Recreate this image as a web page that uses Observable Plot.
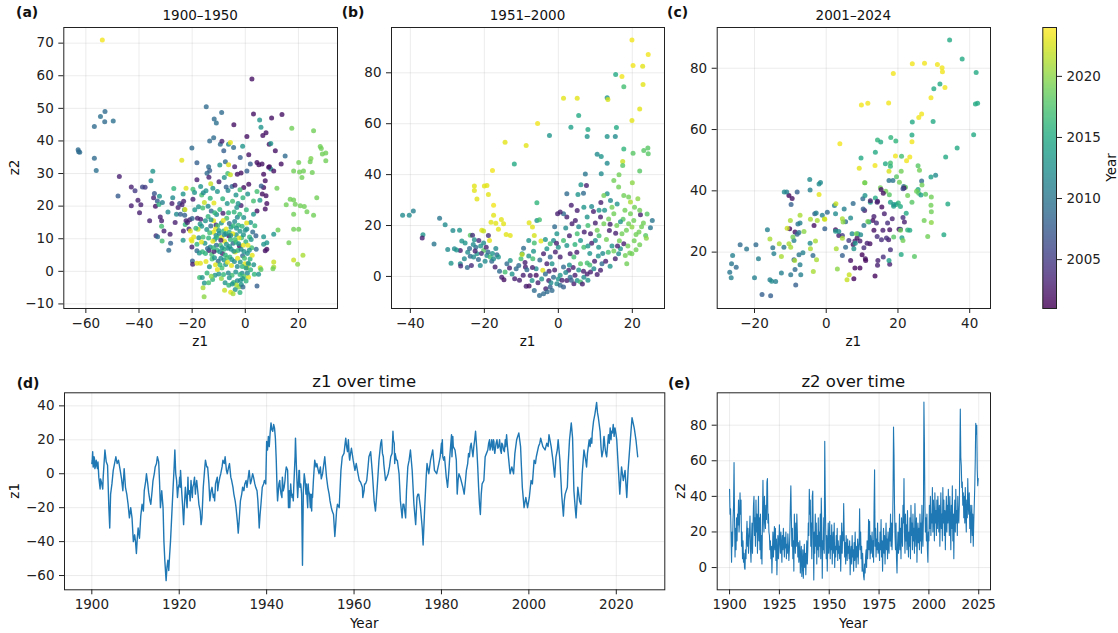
<!DOCTYPE html>
<html><head><meta charset="utf-8">
<script src="https://cdn.jsdelivr.net/npm/d3@7"></script>
<script src="https://cdn.jsdelivr.net/npm/@observablehq/plot@0.6"></script>
<style>
body{margin:0;background:#fff;}
#fig{position:relative;width:1118px;height:633px;overflow:hidden;background:#fff;font-family:"DejaVu Sans",sans-serif;}
.panel{position:absolute;}
#overlay{position:absolute;left:0;top:0;pointer-events:none;}
</style></head><body><div id="fig"></div>
<script>
// ---------------- DATA ----------------
// scatter points: [z1, z2, colour value (Year)]
const scatter1900 = [
[-53.8,71.0,2023.5],
[-62.9,37.3,2009],[-62.7,36.7,2009],[-62.3,36.5,2009],
[-56.8,44.4,2009],[-54.5,47.5,2009.5],[-52.8,49.0,2009],[-52.9,45.9,2009],[-49.7,46.1,2009.5],
[-56.8,34.7,2009],[-56.1,30.9,2009.5],
[-47.4,29.1,2003],[-47.9,23.1,2007.5],[-42.9,25.9,2003],[-41.5,24.7,2005],[-40.4,21.8,2003],[-39.8,18.0,2003],[-38.7,25.9,2006],[-37.7,25.8,2005],[-42.9,20.1,2003],[-39.3,20.4,2003],
[-34.8,30.7,2013],[-35.5,27.8,2012],
[-36.0,15.5,2003],[-34.5,22.6,2003],[-34.2,23.9,2007],[-33.8,20.0,2002],[-33.1,21.6,2008],[-32.3,23.0,2013],[-32.5,20.5,2016],[-31.2,21.1,2011],
[-33.6,10.9,2004],[-33.0,10.6,2009],[-32.0,16.7,2003],[-31.5,15.5,2003],[-31.5,13.8,2017],[-30.6,12.4,2003],[-31.3,9.3,2017],
[-29.1,18.2,2012],[-28.8,6.5,2009],[-28.1,8.6,2008],[-27.6,20.8,2003],[-27.3,22.6,2012],[-26.9,25.4,2016],[-28.3,11.4,2003],
[-26.4,15.0,2003],[-25.9,17.5,2012],[-25.3,19.6,2003],[-24.7,20.8,2007],[-24.4,17.5,2008],[-23.8,20.4,2003],[-23.4,23.7,2013],[-23.2,21.5,2003],[-22.9,18.9,2012],[-23.3,12.4,2003],[-23.4,9.5,2013],[-22.8,17.2,2008],[-22.3,15.5,2003],[-22.6,14.4,2016],
[-23.9,34.1,2023],
[-22.7,19.0,2023],[-21.8,15.0,2003],[-21.2,13.0,2003],[-20.9,15.8,2003],[-20.0,16.2,2008],[-19.7,25.2,2017],[-20.1,37.8,2009],[-19.7,22.1,2003],[-19.1,24.2,2013],[-22.3,25.5,2023],[-20.7,12.4,2023],[-20.4,9.8,2023.5],[-20.1,9.3,2023],[-19.4,10.5,2023],
[-20.1,7.5,2003],[-19.9,3.2,2008],[-19.8,2.2,2003],[-18.2,8.3,2016],[-18.2,6.3,2009],[-18.2,2.5,2023],[-17.5,10.3,2012],[-16.9,2.5,2023],[-17.2,-1.9,2017],[-16.2,-1.9,2013],[-15.9,-5.0,2021],[-15.5,-7.8,2020],[-15.4,-3.6,2013],
[-18.2,33.3,2008],[-18.2,28.1,2003],[-16.8,26.0,2013],[-16.4,23.4,2017],[-15.8,24.1,2012],[-15.4,21.1,2022],[-14.8,24.7,2013],[-14.4,30.1,2009],[-13.8,32.1,2009],[-13.4,30.9,2008],[-14.7,50.5,2009],[-13.7,28.9,2003],[-13.0,26.9,2022],[-11.9,15.5,2023],
[-13.4,40.0,2009],[-11.9,41.0,2009],[-11.7,46.7,2009],[-10.9,45.5,2009.5],[-9.4,39.0,2009],[-8.9,48.7,2009],[-8.1,37.0,2008],[-8.8,39.9,2003],[-7.5,33.6,2009],[-6.3,39.0,2012],[-4.4,38.0,2009],
[-5.6,39.5,2023],[-6.3,32.7,2023],[-6.6,30.0,2017],[-5.6,29.6,2022],
[-4.0,32.1,2003],[-3.0,29.8,2002],[-1.6,30.2,2002],[-1.0,38.4,2013],[-1.9,34.9,2008],[-4.3,45.0,2002],[0.6,41.4,2002],[1.3,35.8,2002],[2.5,59.0,2002],[3.1,48.3,2002],[5.4,46.4,2013],[5.9,44.2,2013],[6.6,41.7,2002],[7.8,42.5,2002],[9.0,39.0,2002],[9.6,39.2,2013],[9.9,47.0,2002],[13.8,48.1,2002],[11.3,37.0,2002],[13.5,32.9,2002],[15.0,35.4,2009],[9.1,32.1,2002],[9.6,31.4,2013],[10.7,30.8,2002],
[4.4,33.4,2002],[5.1,32.7,2002],[6.3,32.9,2002],[6.9,29.8,2002],[7.5,27.8,2002],[6.9,25.7,2002],[6.4,23.7,2002],[7.8,23.2,2002],[8.1,20.8,2002],[7.5,19.1,2002],[8.8,31.9,2002],[6.0,26.2,2008],[5.5,21.8,2013],[4.4,18.5,2002],[3.1,17.5,2013],[3.1,21.6,2017],[4.4,24.5,2017],[1.9,32.9,2008],[0.6,30.8,2008],[1.3,26.7,2002],[0.9,23.7,2013],[-0.6,25.7,2002],
[17.5,43.9,2019],[25.7,43.1,2019],[18.2,30.8,2019],[20.1,33.4,2019],[20.4,30.5,2019],[21.9,30.8,2019],[21.3,28.8,2019],[24.7,34.6,2019.5],[24.4,33.6,2019],[25.2,30.3,2019],[28.2,38.3,2019],[28.6,37.7,2019],[29.0,36.0,2019],[30.3,36.3,2019],[30.3,33.9,2019],[26.9,22.6,2019],[18.2,21.9,2019],[16.9,22.1,2019],[18.8,20.6,2019],[15.4,20.4,2019],[20.7,20.1,2019],[22.2,19.9,2019],[23.2,18.3,2019],[25.7,17.2,2019],[18.2,17.5,2019],[16.4,8.8,2019],[18.2,12.9,2019],[20.1,12.9,2019],[12.3,12.7,2019],[11.9,25.5,2019],[10.7,11.4,2013],[18.2,3.5,2022],[19.7,2.2,2020],[21.7,4.9,2021],[10.7,2.9,2022],[10.7,1.3,2021],[10.4,0.8,2019],
[4.0,10.9,2008],[6.9,10.6,2013],[4.1,6.8,2009],[7.5,6.3,2002],[8.1,6.8,2002],[8.1,8.8,2013],[6.9,8.3,2013],[5.6,1.1,2022],[5.9,0.6,2018],[4.4,-4.5,2008],[3.4,-0.9,2016],[5.0,-0.9,2013],[1.3,2.2,2018],[0.6,1.1,2022],
[-14.5,12.8,2013],[-13.8,10.2,2016],[-13.2,7.5,2012],[-12.6,5.2,2017],[-12.0,12.0,2023],[-11.5,9.8,2013],[-11.0,14.2,2003],[-10.6,6.5,2016],[-10.2,3.1,2009],[-9.8,11.6,2012],[-9.4,8.0,2017],[-9.0,14.8,2013],[-8.6,5.5,2003],[-8.2,12.4,2016],[-7.8,9.2,2023],[-7.4,2.1,2013],[-7.0,16.3,2017],[-6.6,7.1,2012],[-6.2,10.9,2002],[-5.8,4.4,2016],[-5.4,13.5,2013],[-5.0,-1.2,2017],[-4.6,8.6,2009],[-4.2,18.2,2016],[-3.8,5.9,2023],[-3.4,11.2,2013],[-3.0,1.5,2012],[-2.6,14.1,2016],[-2.2,7.8,2002],[-1.8,-2.7,2013],[-1.4,10.3,2017],[-1.0,4.8,2009],[-0.6,16.5,2013],[-0.2,2.3,2023],[0.2,9.1,2016],[0.6,13.0,2012],
[-15.2,8.6,2013],[-14.8,3.0,2023],[-14.0,16.8,2016],[-13.5,1.4,2013],[-12.8,18.5,2009],[-12.3,-2.5,2016],[-11.8,6.1,2003],[-11.2,2.0,2023],[-10.8,17.4,2012],[-10.0,-0.8,2013],[-9.6,19.0,2016],[-9.2,4.0,2012],[-8.8,1.0,2017],[-8.4,17.8,2003],[-8.0,6.8,2016],[-7.6,-3.5,2013],[-7.2,13.0,2023],[-6.8,20.8,2013],[-6.4,-0.5,2012],[-6.0,14.7,2009],[-5.6,9.8,2016],[-5.2,1.8,2023],[-4.8,21.5,2017],[-4.4,-3.4,2016],[-4.0,15.3,2012],[-3.6,-0.2,2013],[-3.2,19.6,2013],[-2.8,6.4,2016],[-2.4,-4.8,2020],[-2.0,12.3,2013],[-1.6,20.2,2003],[-1.2,-0.6,2012],[-0.8,8.0,2023],[-0.4,-1.6,2018],[0.0,12.6,2013],[0.4,18.9,2016],[0.8,5.5,2013],[1.2,-1.8,2023],[1.6,10.5,2016],[2.0,15.0,2013],[2.4,7.2,2017],[2.8,12.1,2009],[3.2,2.0,2013],
[-13.0,13.9,2009],[-12.2,9.2,2023],[-11.0,11.0,2012],[-10.4,14.0,2017],[-9.6,6.0,2013],[-8.9,10.4,2023],[-8.0,3.5,2013],[-7.3,11.5,2013],[-6.9,4.2,2017],[-6.0,12.0,2016],[-5.3,6.8,2013],[-4.7,11.5,2023],[-4.1,3.0,2012],[-3.5,8.9,2016],[-3.0,16.6,2012],[-2.4,10.2,2023],[-1.9,2.9,2013],[-1.2,13.8,2016],[-0.5,6.1,2013],[0.3,1.0,2013],[1.0,8.0,2023],[1.8,3.8,2016],
[-9.0,-2.2,2020],[-7.8,-5.8,2022],[-6.2,-4.3,2016],[-5.5,-6.4,2023],[-3.8,-5.6,2013],[-3.0,-2.9,2012],[-2.0,-1.0,2016],[-1.5,-4.0,2013],[-0.9,-4.8,2009],[0.8,-0.5,2012],[-3.3,-4.2,2021],[-4.9,-3.9,2013],
[-10.5,24.5,2013],[-8.5,22.3,2016],[-6.5,24.8,2012],[-5.0,26.0,2009],[-3.5,23.4,2013],[-2.0,25.0,2017],[-0.9,22.6,2016],[-11.8,21.0,2023],[-9.9,27.5,2003],[-7.9,28.8,2013],[-3.9,26.4,2003],[-2.7,20.8,2013],[-9.6,32.6,2013],[-7.2,25.9,2008],
[-12.5,3.8,2017],[-11.4,-1.2,2013],[-10.9,8.0,2009],[-13.7,6.4,2003],[-14.4,-0.5,2016],[-16.4,13.8,2013],[-15.9,10.5,2017],[-16.8,16.0,2003],[-17.8,12.9,2022],[-17.3,5.6,2013],[-16.1,6.0,2016],
[-17.0,14.5,2013],[-16.5,9.0,2023],[-15.0,5.5,2016],[-14.2,7.0,2009],[-13.4,11.8,2017],[-12.9,15.8,2013],[-12.0,7.2,2016],[-11.6,4.2,2013],[-11.2,13.0,2023],[-10.7,10.4,2016],[-10.0,12.5,2013],[-9.5,2.0,2016],[-9.2,9.5,2003],[-8.7,7.2,2013],[-8.3,15.6,2023],[-7.9,11.2,2012],[-7.5,5.0,2016],[-7.1,8.3,2013],[-6.7,2.8,2023],[-6.3,18.0,2016],[-5.9,7.6,2013],[-5.5,11.0,2012],[-5.1,3.6,2013],[-4.5,14.0,2016],[-4.3,6.2,2013],[-3.9,9.8,2017],[-3.3,13.2,2013],[-2.9,4.0,2023],[-2.5,8.5,2013],[-2.1,17.5,2016],[-1.6,6.8,2012],[-1.1,1.5,2016],[-0.7,11.2,2013],[-0.3,4.0,2017],[0.5,14.8,2023],[1.1,2.5,2013],[1.5,6.5,2013],[2.2,9.8,2013],[2.6,4.9,2023],[3.6,14.0,2016],
[-19.0,18.9,2013],[-18.6,13.2,2016],[-18.0,16.3,2003],[-17.6,19.8,2013],[-16.0,19.4,2017],[-15.0,15.5,2013],[-14.0,20.0,2012],[-13.2,22.4,2016],[-12.2,25.5,2013],[-11.5,18.0,2016],[-6.0,-2.0,2013],[-8.2,-1.0,2016],[-10.5,0.6,2023],[-12.8,-1.5,2020],[-13.8,-3.5,2017],[-2.0,-6.5,2016],[-4.6,-6.9,2021],[-1.0,-2.2,2013],[0.3,-3.0,2016],[2.0,0.5,2016]
];

const scatter1951 = [
[19.9,92.9,2023.5],[20.2,82.9,2023.5],[22.8,82.6,2023],[24.3,87.2,2023.5],[22.9,75.4,2023],[22.0,65.8,2023],[19.9,61.3,2023],[17.2,78.5,2023.5],[17.7,74.5,2017],[15.5,79.3,2015],[13.2,70.2,2013],[13.4,69.5,2022.5],[1.4,70.0,2023],[5.1,70.0,2023],[5.5,63.2,2015],[-5.6,60.1,2023.5],[3.4,58.6,2014],[8.0,57.7,2015],[7.8,55.0,2013],[-2.4,55.4,2013],[13.2,55.0,2013],[15.4,55.0,2012],[15.7,58.5,2015],[-8.7,51.4,2023],[-14.4,52.7,2023],[-11.9,44.2,2015],[-17.8,41.6,2023.5],
[17.7,50.1,2016],[20.2,48.4,2018],[23.1,49.5,2018],[24.2,50.5,2018],[24.3,48.2,2018],[22.0,41.4,2018],[17.4,45.2,2022],[17.4,43.6,2018],[10.5,48.0,2012],[11.6,47.1,2013],[13.2,44.5,2012],[11.6,40.3,2012],[7.3,40.2,2010],[6.1,36.0,2013],[7.6,35.7,2003],[2.3,32.5,2009],[5.3,32.2,2013],[6.8,32.7,2009],[16.4,39.9,2019],[20.0,36.8,2020],[15.0,37.7,2019],[16.3,35.1,2019],
[-42.1,24.0,2012],[-40.3,24.0,2012],[-39.2,25.7,2011],[-32.1,22.9,2010],[-30.6,20.3,2012],[-36.6,16.4,2013],[-36.8,15.1,2003],[-33.6,12.7,2010],[-29.9,10.6,2012],[-28.1,10.9,2012],[-26.7,18.1,2013],[-26.5,5.0,2012],[-26.4,4.1,2004],[-26.1,13.9,2013],[-25.2,13.1,2013],[-26.5,10.2,2003],[-25.4,6.9,2012],[-23.8,16.2,2018],[-23.2,16.2,2004],[-22.7,14.4,2013],[-23.8,7.9,2009],[-22.9,7.6,2012],[-22.3,11.5,2009],[-22.0,8.9,2013],[-21.6,6.7,2009],[-21.1,4.3,2012],[-20.7,18.1,2023],[-20.2,17.8,2022],[-21.5,14.1,2004],[-20.2,13.1,2012],[-20.2,10.2,2018],[-19.5,11.5,2003],[-19.3,8.2,2012],[-18.9,16.1,2004],[-18.6,14.1,2023],[-18.4,7.6,2017],[-18.0,6.0,2009],[-17.5,6.9,2012],[-17.1,3.7,2003],[-16.6,8.5,2009],[-16.2,7.6,2013],[-15.9,2.0,2009],[-15.3,-0.3,2003],[-14.7,-1.3,2002],[-14.4,1.7,2017],[-13.9,5.0,2009],[-13.0,6.3,2013],[-13.2,3.3,2003],[-11.8,-0.9,2003],[-11.4,3.0,2009],[-10.7,4.3,2009],[-10.1,6.9,2017],[-9.8,8.9,2013],[-9.4,11.1,2009],[-8.9,3.7,2003],[-8.5,2.6,2009],[-8.0,14.1,2013],[-7.6,0.4,2003],[-7.1,-1.6,2013],[-8.7,-3.9,2003],[-7.9,-3.8,2002],[-6.9,6.9,2017],[-6.7,9.9,2013],[-6.5,13.1,2017],[-5.8,22.0,2013],[-5.1,22.3,2017],[-5.8,28.9,2016],
[-24.5,9.5,2012],[-24.0,11.0,2009],[-21.0,12.0,2013],[-20.8,9.0,2004],[-19.8,6.0,2012],[-22.5,10.0,2003],[-23.0,12.5,2012],[-19.0,9.6,2009],[-17.8,9.0,2013],[-16.9,11.0,2012],[-29.0,5.2,2013],[-27.5,10.4,2013],[-28.5,18.0,2012],[-24.6,3.5,2009],[-23.5,4.3,2004],
[-22.7,35.5,2023],[-22.7,33.8,2023],[-22.0,30.4,2023],[-20.0,35.5,2023],[-19.3,35.7,2023],[-18.9,32.2,2023],[-17.5,28.0,2023.5],[-17.5,24.0,2023],[-18.2,21.3,2023],[-16.9,20.9,2023],[-15.4,22.4,2023],[-14.8,20.7,2023],[-16.2,18.5,2023],[-14.1,16.5,2023],[-13.0,16.1,2023],[-7.9,21.1,2023],[-7.0,19.4,2023],[-6.5,16.1,2022.5],[-4.7,13.9,2023],[-4.2,2.4,2023],[-9.8,8.6,2022],
[-5.1,-7.5,2009],[-4.0,-6.8,2009],[-3.4,-4.8,2003],[-2.2,-4.2,2008],[-1.7,-5.5,2009],[-2.6,-1.6,2003],[-1.3,-0.3,2009],[-0.4,-2.9,2012],[0.5,-3.5,2009],[1.4,-4.2,2008],[2.3,-1.6,2003],[3.2,-0.3,2009],[4.2,-2.9,2003],[5.1,-1.6,2013],[6.0,-2.2,2017],[6.9,-0.3,2012],[7.8,1.0,2003],[8.7,1.7,2003],[9.6,3.0,2012],[10.5,0.8,2003],[11.4,2.4,2003],[11.8,5.0,2009],
[25.4,22.0,2010],[24.9,19.1,2010],[23.6,16.1,2018],[22.2,24.2,2003],[22.0,12.4,2019],[19.9,8.9,2019],[19.3,9.2,2019],[18.1,8.2,2019],[17.7,12.8,2003],[16.8,10.9,2013],[15.4,6.9,2003],[16.3,8.9,2012],[17.2,16.8,2019],[18.4,18.1,2019],[19.0,20.7,2019],[19.9,19.4,2020],[20.4,22.0,2019],[19.5,24.6,2019],[20.6,27.2,2019],[19.5,29.2,2021],[19.0,31.2,2019],[17.7,31.8,2019],[15.9,28.5,2013],[14.1,29.8,2012],[13.2,32.5,2013],[12.3,31.8,2019],[14.5,27.2,2019],[15.0,24.6,2019],[13.6,22.6,2019],[12.3,20.7,2019],[11.4,23.3,2003],[10.5,18.1,2019],[10.0,14.1,2012],[10.9,11.5,2013],[8.7,16.8,2003],[7.8,23.3,2013],[6.9,27.2,2013],[5.1,25.9,2003],[4.6,22.0,2003],[3.7,20.7,2003],[2.3,23.3,2003],[1.4,24.6,2009],[0.5,25.3,2003],[-0.2,24.6,2003],[-0.4,16.8,2013],[-1.3,14.1,2012],[-2.2,12.8,2017],[-3.1,10.9,2013],[-4.0,8.9,2003],[-3.1,5.0,2003],[-2.2,7.6,2009],[1.4,14.1,2017],[2.3,12.2,2013],[3.2,8.9,2003],[4.2,7.6,2017],[5.1,16.8,2017],[6.0,14.1,2013],[6.9,11.5,2017],[7.8,5.3,2017],[6.0,5.0,2018],[0.5,7.6,2003],[-0.8,9.6,2003],[-1.7,5.0,2013],[1.4,3.7,2009],[2.8,2.4,2003],
[2.0,19.0,2012],[3.0,16.0,2003],[4.5,12.5,2016],[5.5,19.5,2012],[8.0,20.0,2017],[9.0,13.0,2003],[9.5,25.5,2003],[11.0,16.0,2017],[12.0,9.0,2012],[13.0,14.5,2019],[13.8,18.0,2003],[14.5,12.0,2013],[15.8,20.0,2019],[16.5,14.0,2019],[17.5,22.5,2018],[18.0,26.0,2019],[21.0,16.5,2019],[21.5,30.5,2020],[22.5,19.5,2019],[23.8,15.0,2020],[21.0,10.5,2019],[12.5,26.0,2013],[10.0,21.0,2003],[8.5,9.0,2013],[7.0,17.5,2003],[4.0,3.5,2003],[0.0,11.5,2013],[-1.0,19.5,2009],[3.5,28.0,2003],[9.0,27.5,2012],[11.5,29.0,2003],[6.5,-3.0,2003],[8.0,-1.5,2013],[-9.5,0.5,2003],[-6.0,3.0,2012],[-5.0,6.5,2009],[-2.5,2.0,2003],[0.5,0.5,2013],[14.0,4.0,2013],[18.5,5.0,2019],[24.0,24.5,2018],[15.5,17.0,2003],
[-9.0,5.5,2003],[-8.0,8.0,2013],[-7.0,3.5,2003],[-6.0,0.5,2002],[-5.5,-2.5,2003],[-4.5,-1.0,2013],[-3.5,1.0,2009],[-2.0,-2.5,2012],[-1.0,2.5,2003],[0.0,-1.0,2013],[1.0,-1.5,2003],[2.0,1.5,2012],[3.5,-1.5,2008],[4.5,0.5,2003],[5.5,2.5,2013],[6.8,2.0,2003],[8.5,4.5,2017],[9.8,6.0,2003],[10.8,8.0,2013],[12.8,6.0,2003],[13.5,9.5,2017],[15.0,10.0,2019],[16.0,12.0,2003],[18.8,12.0,2019],[20.5,14.0,2019],[21.8,17.5,2019],[23.0,21.0,2019],[22.0,26.0,2019],[16.8,21.5,2013],[14.0,20.5,2003],[11.0,26.0,2013],[8.0,12.0,2013],[5.0,9.5,2003],[3.0,4.5,2013],[-0.5,13.0,2003],[-3.5,14.5,2013],[-10.5,-1.5,2003],[-12.5,1.0,2013],[-6.5,-5.5,2009],[-3.0,-6.0,2009]
];

const scatter2001 = [
[34.4,89.2,2015],[37.9,83.0,2015],[41.8,78.6,2015],[41.6,68.3,2015],[42.2,68.6,2015],[41.1,58.3,2015],[31.7,74.9,2015],[30.0,73.3,2015],[29.8,62.6,2015],[24.0,62.5,2015],[23.9,58.2,2015],[36.5,54.0,2015],[33.3,51.0,2015],[33.9,35.7,2015],[32.8,25.7,2015],[30.5,45.1,2012],[29.2,44.5,2014],
[24.0,81.5,2023.5],[27.4,81.6,2023.5],[31.0,81.2,2023.5],[32.3,80.2,2023.5],[32.4,78.9,2023.5],[18.7,78.3,2023.5],[33.1,73.7,2023.5],[29.2,70.4,2023.5],[26.6,65.1,2023.5],[25.8,63.9,2023.5],[9.8,68.0,2023.5],[11.6,68.6,2023.5],[17.4,68.7,2023.5],[3.8,55.4,2023.5],[23.9,56.0,2023.5],[19.3,51.4,2023.5],[22.4,49.8,2023.5],[23.3,51.0,2023.5],[9.2,47.4,2023],[13.6,48.3,2023.5],[17.5,46.4,2022.5],[-2.0,38.8,2023],[-0.4,30.7,2023],
[18.0,57.4,2016],[19.4,56.3,2016],[14.3,56.6,2016],[15.2,55.9,2015],[13.7,52.6,2015],[9.7,50.7,2015],[17.9,49.1,2017],[16.5,48.8,2015],[17.9,48.0,2016],[21.0,51.3,2017],[25.6,48.2,2018],[26.0,46.7,2019],[20.9,46.4,2019],[19.6,44.6,2018],[18.6,43.4,2010],[10.7,42.6,2020],[21.6,41.4,2009],[20.4,42.8,2019],[26.6,43.2,2009],[26.7,41.9,2019],[25.6,40.4,2015],[25.2,39.9,2019],[25.8,39.2,2018],[26.4,38.6,2014],[27.7,38.9,2018],[29.3,38.0,2019],[29.2,35.3,2019],[29.3,33.2,2019],[27.3,30.3,2019],[29.3,29.7,2020],[28.3,25.1,2019],[24.6,18.6,2018],[22.7,27.2,2016],[22.3,32.7,2015],[23.9,36.3,2018],[22.7,38.5,2019],[22.1,41.2,2018],[20.7,34.9,2015],[20.1,36.0,2016],[19.5,35.5,2015],[18.8,35.0,2014],[17.9,36.3,2014],[17.6,38.7,2018],[16.6,39.9,2019],[15.1,41.0,2019],[13.7,37.7,2015],[12.3,36.3,2014],
[-10.4,38.5,2001.5],[-9.5,37.5,2002],[-10.2,27.6,2001.5],[-8.7,26.6,2002],[-3.4,28.7,2002],[2.6,27.3,2002],[3.5,25.4,2003],[4.5,25.4,2005],[6.8,17.3,2002],[8.0,14.8,2001.5],[7.7,11.3,2001.5],[9.4,14.8,2001.5],[10.0,19.1,2001.5],[10.9,17.8,2002],[11.0,17.3,2001.5],[13.6,12.2,2001.5],[14.3,15.7,2003],[14.4,17.3,2003],[15.9,18.4,2004],[17.7,16.0,2003],[17.9,20.8,2004],[17.4,24.0,2003],[17.7,27.3,2002],[18.4,30.9,2003],[17.1,29.5,2004],[16.2,32.5,2003],[15.5,34.7,2002],[14.2,36.3,2003],[13.3,31.6,2003],[13.0,30.3,2002],[14.0,29.5,2004],[13.3,27.1,2002],[14.2,25.1,2004],[15.4,24.0,2004],[12.2,22.7,2002],[11.4,22.9,2003],[10.5,21.4,2004],[9.4,23.6,2003],[8.6,24.6,2002],[8.0,23.6,2003],[7.5,22.5,2002],[6.3,23.8,2005],[20.3,27.5,2002],[20.7,27.5,2005],[21.8,29.8,2003],[21.4,31.3,2004],[21.7,40.9,2002],[21.4,40.7,2006],[15.9,39.2,2002],[15.3,40.4,2002],[16.8,24.6,2004],[15.8,27.1,2003],[10.7,33.6,2003],[12.3,36.8,2003],[14.3,36.6,2003],
[-26.9,13.4,2010],[-26.5,11.6,2011],[-26.4,16.2,2010],[-26.1,18.9,2011],[-25.1,15.1,2009],[-24.0,22.4,2009],[-22.2,21.0,2010],[-20.0,11.6,2011],[-19.6,22.4,2009],[-18.9,17.8,2011],[-17.9,6.2,2008],[-16.4,27.3,2011],[-15.7,11.0,2011],[-15.5,5.8,2008],[-15.2,10.5,2012],[-14.9,21.4,2010],[-14.6,19.5,2011],[-14.1,10.4,2011],[-12.5,13.2,2011],[-11.7,39.6,2012],[-11.0,39.6,2011],[-11.8,21.6,2010],[-9.9,12.6,2010],[-9.8,35.5,2008],[-9.0,17.5,2008],[-8.7,14.3,2009],[-8.5,9.3,2008],[-8.1,39.6,2008],[-9.0,23.8,2011],[-8.1,25.8,2008],[-7.9,29.2,2010],[-7.3,29.5,2011],[-7.6,19.1,2010],[-7.3,15.9,2011],[-7.1,12.6,2011],[-7.6,26.4,2010],[-6.5,19.8,2011],[-4.6,43.7,2012],[-4.5,40.3,2011],[-2.0,42.2,2012],[-1.6,42.7,2012],[-4.5,22.9,2012],[-3.7,18.9,2009],[-3.2,32.5,2008],[-2.8,32.8,2011],[-1.1,32.0,2011],[0.3,33.0,2009],[-0.4,27.6,2008],[2.3,35.2,2011],[2.6,32.5,2012],[5.0,34.1,2011],[5.4,29.9,2009],[6.8,31.1,2012],[7.5,35.9,2009],[10.2,37.4,2009],[10.3,34.1,2008],[8.8,26.0,2013],[9.6,25.7,2012],[10.5,28.7,2010],[11.9,29.8,2013],[8.1,22.9,2013],[7.7,21.1,2013],[7.2,26.0,2012],[5.4,21.6,2009],[4.5,18.9,2008],[3.5,26.7,2012],[2.6,26.8,2013],[10.8,38.5,2013],[17.5,43.4,2010],[18.8,35.5,2013],[17.5,17.3,2014],[20.9,19.2,2015],[21.1,24.7,2014],
[-15.7,24.3,2021],[-13.1,22.7,2021],[-12.5,18.6,2021],[-10.9,27.8,2022],[-10.4,22.7,2021],[-10.0,30.3,2021],[-9.9,21.6,2021],[-9.3,24.9,2019],[-8.8,17.3,2021],[-7.3,32.0,2021],[-6.2,26.7,2020],[-4.4,21.1,2021],[-4.4,30.7,2021],[-3.6,13.7,2021],[-3.0,23.6,2021],[-2.7,17.5,2021],[-2.5,30.3,2021],[-0.5,30.8,2022],[2.7,35.8,2022],[2.8,21.1,2021],[3.1,14.5,2020],[4.5,24.5,2021],[4.5,30.9,2021],[4.7,29.8,2020],[5.8,11.0,2022],[6.4,12.6,2022],[8.4,26.0,2019],[10.8,42.6,2019],[11.6,30.0,2019],[18.8,24.9,2018],[21.4,23.8,2019],[23.3,27.1,2015],[20.7,27.1,2019]
];

// z1 over time: [year, z1] (main trace and extra short-term wiggles)
const z1Series = [
[1900.0,6],[1900.2,13],[1900.4,5],[1900.6,9],[1900.8,4],[1901.0,8],[1901.3,3],[1901.6,-2],[1901.9,-9],[1902.2,-5],[1902.5,-9],[1902.8,6],[1903.0,14],[1903.3,7],[1903.6,5],[1903.9,-20],[1904.1,-32],[1904.3,-12],[1904.6,-6],[1904.9,2],[1905.2,6],[1905.5,10],[1905.8,6],[1906.1,8],[1906.5,2],[1906.8,-3],[1907.1,-10],[1907.4,3],[1907.7,-8],[1908.0,-12],[1908.3,-18],[1908.6,-26],[1908.9,-20],[1909.2,-26],[1909.5,-40],[1909.8,-36],[1910.0,-40],[1910.2,-47],[1910.4,-38],[1910.6,-32],[1910.9,-38],[1911.2,-25],[1911.5,-18],[1911.8,-22],[1912.0,-10],[1912.3,-5],[1912.5,0],[1912.8,-6],[1913.0,-11],[1913.3,-16],[1913.5,-18],[1913.8,-10],[1914.0,-4],[1914.3,0],[1914.5,4],[1914.8,6],[1915.0,10],[1915.3,7],[1915.5,-5],[1915.7,-20],[1916.0,-10],[1916.3,-20],[1916.5,-40],[1916.7,-51],[1917.0,-63],[1917.2,-55],[1917.4,-51],[1917.6,-57],[1917.8,-48],[1918.0,-40],[1918.3,-24],[1918.6,-8],[1918.8,2],[1919.0,14],[1919.2,0],[1919.4,-4],[1919.6,-14],[1919.8,-8],[1920.0,-6],[1920.3,2],[1920.6,-12],[1920.8,-20],[1921.0,-30],[1921.2,-18],[1921.4,-8],[1921.6,-14],[1921.8,-20],[1922.0,-2],[1922.3,-10],[1922.5,-16],[1922.8,-8],[1923.0,-14],[1923.3,-6],[1923.5,-2],[1923.8,-8],[1924.0,-4],[1924.3,-12],[1924.5,-18],[1924.8,-22],[1925.0,-30],[1925.2,-26],[1925.5,-8],[1925.8,2],[1926.0,8],[1926.3,4],[1926.5,4],[1926.8,-6],[1927.0,-16],[1927.3,-10],[1927.5,-8],[1927.8,-14],[1928.0,-12],[1928.3,-6],[1928.5,-4],[1928.8,-10],[1929.0,-6],[1929.3,-2],[1929.5,0],[1929.8,4],[1930.0,8],[1930.3,6],[1930.5,10],[1930.8,2],[1931.0,0],[1931.3,4],[1931.5,6],[1931.8,-2],[1932.0,-4],[1932.3,-8],[1932.5,-12],[1932.8,-16],[1933.0,-20],[1933.3,-28],[1933.5,-35],[1933.7,-28],[1934.0,-16],[1934.3,-12],[1934.5,-8],[1934.8,-10],[1935.0,-6],[1935.3,-4],[1935.5,-8],[1935.8,-2],[1936.0,2],[1936.3,-6],[1936.5,-4],[1936.8,0],[1937.0,-2],[1937.3,-6],[1937.5,-8],[1937.8,-10],[1938.0,-16],[1938.2,-26],[1938.3,-32],[1938.5,-24],[1938.7,-18],[1939.0,-8],[1939.3,-6],[1939.5,-4],[1939.8,-6],[1940.0,19],[1940.2,14],[1940.4,22],[1940.6,16],[1940.8,24],[1941.0,30],[1941.2,26],[1941.4,25],[1941.6,29],[1941.8,27],[1942.0,21],[1942.2,8],[1942.4,-10],[1942.5,-16],[1942.8,-6],[1943.0,-4],[1943.3,-12],[1943.6,-2],[1943.8,-10],[1944.0,-8],[1944.3,0],[1944.5,4],[1944.8,2],[1945.0,-20],[1945.2,-10],[1945.5,-6],[1945.8,-14],[1946.0,-12],[1946.3,-2],[1946.5,10],[1946.6,21],[1946.8,5],[1947.0,-8],[1947.3,-4],[1947.5,2],[1947.8,-6],[1948.0,-12],[1948.2,-54],[1948.4,-10],[1948.6,0],[1948.8,-4],[1949.0,-12],[1949.3,-16],[1949.5,-6],[1949.8,-12],[1950.0,-20],[1950.2,-16],[1950.5,-14],[1950.7,-4],[1951.0,8],[1951.3,4],[1951.5,6],[1951.8,2],[1952.0,0],[1952.3,4],[1952.5,-3],[1952.8,0],[1953.0,4],[1953.3,10],[1953.7,-2],[1954.0,-8],[1954.3,-12],[1954.5,-16],[1954.8,-20],[1955.0,-22],[1955.3,-24],[1955.6,-37],[1955.8,-30],[1956.0,-22],[1956.2,-18],[1956.6,-20],[1957.0,2],[1957.3,10],[1957.7,12],[1958.1,21],[1958.5,13],[1958.9,10],[1959.2,12],[1959.4,15],[1959.8,8],[1960.2,2],[1960.5,6],[1960.9,0],[1961.2,-4],[1961.5,-5],[1961.9,-8],[1962.3,-10],[1962.6,-6],[1962.9,-4],[1963.2,4],[1963.4,10],[1963.8,13],[1964.2,0],[1964.6,-16],[1964.9,-22],[1965.3,-8],[1965.7,8],[1966.1,18],[1966.5,12],[1966.8,6],[1967.2,-4],[1967.5,-2],[1967.8,0],[1968.1,4],[1968.4,10],[1968.7,12],[1968.9,25],[1969.2,18],[1969.4,12],[1969.7,8],[1969.9,8],[1970.3,0],[1970.6,-16],[1971.0,-26],[1971.2,-18],[1971.4,-18],[1971.8,-26],[1972.0,-10],[1972.3,4],[1972.6,8],[1972.9,14],[1973.3,2],[1973.7,-18],[1974.1,-30],[1974.4,-14],[1974.6,-12],[1974.8,-12],[1975.2,-20],[1975.6,-32],[1975.8,-42],[1976.0,-30],[1976.2,-18],[1976.5,-2],[1976.7,6],[1977.1,0],[1977.5,8],[1978.0,14],[1978.4,2],[1978.9,0],[1979.4,6],[1979.7,10],[1980.0,18],[1980.3,10],[1980.5,8],[1980.9,4],[1981.1,-2],[1981.4,-8],[1981.7,2],[1981.9,10],[1982.3,23],[1982.5,16],[1982.7,16],[1983.1,14],[1983.4,8],[1983.6,-12],[1983.8,-4],[1984.0,0],[1984.3,-2],[1984.5,-4],[1984.9,-8],[1985.2,-12],[1985.5,-4],[1985.7,2],[1986.0,6],[1986.2,12],[1986.6,16],[1987.0,14],[1987.4,16],[1987.6,20],[1987.8,25],[1988.1,14],[1988.3,4],[1988.5,-8],[1988.7,-18],[1988.9,-24],[1989.1,-12],[1989.3,-6],[1989.7,-4],[1990.0,10],[1990.3,12],[1990.6,14],[1991.0,20],[1991.3,16],[1991.6,17],[1991.9,20],[1992.1,14],[1992.3,14],[1992.5,18],[1992.7,20],[1993.1,16],[1993.5,14],[1993.8,18],[1994.2,14],[1994.6,20],[1994.9,23],[1995.1,16],[1995.4,8],[1995.7,0],[1996.1,4],[1996.5,0],[1996.8,12],[1997.2,20],[1997.7,24],[1998.1,16],[1998.3,4],[1998.5,-8],[1998.9,-20],[1999.3,-14],[1999.7,-20],[2000.1,-14],[2000.5,-4],[2000.8,-6],[2001.2,8],[2001.5,6],[2001.7,10],[2002.2,16],[2002.5,18],[2002.7,21],[2003.2,16],[2003.7,14],[2004.1,18],[2004.4,16],[2004.6,23],[2005.1,16],[2005.5,8],[2005.9,-2],[2006.2,10],[2006.5,14],[2006.7,20],[2007.1,8],[2007.5,-12],[2007.9,-25],[2008.1,-16],[2008.3,-12],[2008.8,-8],[2009.0,6],[2009.3,20],[2009.7,30],[2010.0,21],[2010.3,-10],[2010.6,-20],[2010.8,-26],[2011.2,-8],[2011.6,-16],[2011.9,-18],[2012.2,0],[2012.6,14],[2013.0,8],[2013.4,12],[2013.8,20],[2014.2,21],[2014.5,24],[2014.8,31],[2015.1,35],[2015.5,42],[2015.7,36],[2015.9,33],[2016.3,25],[2016.5,16],[2016.7,10],[2017.1,20],[2017.4,16],[2017.8,10],[2018.2,23],[2018.6,27],[2018.9,25],[2019.3,29],[2019.7,27],[2020.1,20],[2020.5,2],[2020.8,-12],[2021.0,-4],[2021.2,4],[2021.6,-4],[2022.0,2],[2022.4,-14],[2022.7,2],[2023.1,16],[2023.6,33],[2024.1,27],[2024.5,20],[2024.9,10]
];
const z1Detail = [
[1900.1,8],[1900.3,4],[1900.5,10],[1900.7,3],[1901.1,5],[1901.4,7],[1902.0,-3],[1902.6,-2],
[1920.1,-2],[1920.2,-8],[1922.1,-12],[1922.7,-4],[1923.1,-8],[1923.7,-12],[1928.1,-16],[1928.7,-2],
[1943.1,-8],[1943.5,-14],[1944.2,-4],[1945.1,-14],[1945.3,-20],[1945.6,-10],[1946.1,-16],[1946.2,-8],[1947.1,-14],[1947.4,2],[1947.6,-8],[1949.1,-6],[1949.4,-20],[1949.6,-10],[1950.1,-12],[1950.3,-22],[1950.4,-12],
[1958.3,16],[1958.7,20],[1959.0,8],[1962.0,-14],[1962.4,-6],[1966.3,20],[1966.7,10],[1969.0,20],[1969.3,6],
[1980.1,12],[1980.2,20],[1980.7,10],[1982.4,10],[1982.6,22],[1986.4,10],[1986.8,18],[1987.2,10],
[1990.8,18],[1991.1,14],[1991.5,20],[1991.7,14],[1992.0,19],[1992.2,12],[1992.4,16],[1992.9,15],[1993.3,20],[1993.7,12],[1994.0,17],[1994.4,13],[1994.7,16],
[2013.2,4],[2013.6,16],[2014.0,16],[2014.4,18],[2017.0,14],[2017.2,22],[2017.6,12],[2018.4,18],[2018.8,20],[2019.1,24],[2019.5,22],[2019.9,24]
];

// z2 over time: quarterly values starting 1900.0
const z2Start = 1900, z2Step = 0.25;
const z2Quarterly = [
44,30,33,18,3,20,12,27,35,59,28,6,22,10,28,15,30,24,38,20,
25,42,30,38,12,20,5,15,3,8,0,-1,10,5,18,26,12,22,8,16,
20,29,10,3,15,25,8,22,35,40,18,28,12,38,20,30,8,25,40,15,
28,10,30,5,18,2,25,49,30,20,40,28,22,35,27,48,50,25,30,20,
18,10,15,5,12,-3,8,20,6,14,23,10,22,4,16,-4,9,18,5,12,
24,15,8,20,12,3,18,10,22,14,6,17,11,20,5,13,8,19,12,4,
10,20,35,46,28,12,22,5,15,-2,30,18,8,25,12,30,20,6,14,3,
8,15,-3,6,12,-5,2,10,-6,4,13,0,8,-4,6,15,2,10,25,18,
44,30,38,12,25,5,40,43,15,-7,20,8,30,12,25,2,18,10,28,6,
20,12,30,5,39,25,-6,15,10,28,8,71,40,20,5,18,-2,12,25,8,
15,26,5,18,10,24,2,14,20,8,25,0,12,6,18,10,22,4,15,8,
12,5,18,-2,10,25,8,20,15,36,20,6,14,2,18,10,4,16,8,12,
5,15,-4,8,12,2,18,6,10,-2,14,4,20,8,0,12,6,16,2,10,
15,33,10,20,5,12,-2,8,0,-5,-7,2,-3,6,10,0,15,5,12,27,
10,26,5,18,8,12,20,6,15,3,35,55,12,22,6,16,10,25,8,14,
12,4,20,10,27,6,15,-2,12,22,8,18,2,14,25,10,16,5,20,12,
8,22,15,30,12,25,10,20,40,79,63,35,18,10,25,5,-3,12,20,8,
15,30,10,22,5,28,18,12,35,25,50,20,8,30,15,24,10,32,18,6,
20,12,28,5,35,18,25,10,30,15,22,8,36,20,12,28,3,18,25,14,
22,10,30,15,25,8,35,20,12,28,93,70,35,20,28,15,30,10,3,20,
15,35,22,40,18,30,25,45,20,38,28,15,42,25,32,18,38,22,40,30,
20,35,12,28,42,22,30,15,45,25,38,18,32,10,28,40,20,35,25,44,
30,18,40,25,10,35,22,46,15,30,5,28,38,20,44,25,32,18,40,28,
25,35,60,89,62,57,45,48,35,42,28,40,25,45,30,20,38,28,50,35,
30,42,22,35,14,28,35,18,30,12,25,35,45,60,81,75,80,55,46,50
];

// axis ticks
const ticksA_x = [-60,-40,-20,0,20], ticksA_y = [-10,0,10,20,30,40,50,60,70];
const ticksB_x = [-40,-20,0,20], ticksB_y = [0,20,40,60,80];
const ticksC_x = [-20,0,20,40], ticksC_y = [20,40,60,80];
const ticksBar = [2005,2010,2015,2020];
const ticksD_x = [1900,1920,1940,1960,1980,2000,2020], ticksD_y = [-60,-40,-20,0,20,40];
const ticksE_x = [1900,1925,1950,1975,2000,2025], ticksE_y = [0,20,40,60,80];
const yearDomain = [2001, 2024];

// ---------------- DRAWING ----------------
const fig = document.getElementById("fig");
const INK = "#222";
const FONT = "DejaVu Sans";
const fmt = d3.format("d");
const baseStyle = {fontFamily: FONT, fontSize: "13.5px", color: INK, background: "transparent", overflow: "visible"};
const gridOpts = {stroke: "#b0b0b0", strokeOpacity: 0.3, strokeWidth: 0.8};
const z1All = [...z1Series, ...z1Detail].sort((a, b) => a[0] - b[0]);

function place(el, left, top) {
  const w = document.createElement("div");
  w.className = "panel";
  w.style.left = left + "px";
  w.style.top = top + "px";
  w.appendChild(el);
  fig.appendChild(w);
}

function gridMarks(xt, yt) {
  return [
    Plot.gridX({ticks: xt, ...gridOpts}),
    Plot.gridY({ticks: yt, ...gridOpts})
  ];
}
function axisMarks(xt, yt) {
  return [
    Plot.frame({stroke: INK, strokeWidth: 1}),
    Plot.axisX({ticks: xt, tickSize: 5, tickPadding: 5, label: null, tickFormat: fmt}),
    Plot.axisY({ticks: yt, tickSize: 5, tickPadding: 5, label: null, tickFormat: fmt})
  ];
}

function scatterPanel(data, o) {
  return Plot.plot({
    width: o.width, height: o.height,
    marginLeft: o.ml, marginRight: o.mr, marginTop: o.mt, marginBottom: o.mb,
    style: baseStyle,
    x: {domain: o.xd, label: null},
    y: {domain: o.yd, label: null},
    color: {type: "linear", scheme: "viridis", domain: yearDomain},
    marks: [
      ...gridMarks(o.xt, o.yt),
      Plot.dot(data, {x: d => d[0], y: d => d[1], fill: d => d[2], r: 2.5, fillOpacity: 0.8}),
      ...axisMarks(o.xt, o.yt)
    ]
  });
}

place(scatterPanel(scatter1900, {width: 345, height: 360, ml: 63.3, mr: 8, mt: 27, mb: 52,
  xd: [-68.3, 34.7], yd: [-11.4, 74.8], xt: ticksA_x, yt: ticksA_y}), 0, 0);
place(scatterPanel(scatter1951, {width: 325, height: 360, ml: 46, mr: 6, mt: 27, mb: 52,
  xd: [-45.1, 28.7], yd: [-12.6, 97.8], xt: ticksB_x, yt: ticksB_y}), 345, 0);
place(scatterPanel(scatter2001, {width: 330, height: 360, ml: 46.7, mr: 10, mt: 27, mb: 52,
  xd: [-30.4, 45.8], yd: [1.6, 93.3], xt: ticksC_x, yt: ticksC_y}), 670, 0);

// colour bar
let barMarks;
try {
  barMarks = [Plot.raster({fill: (x, y) => y, x1: 0, x2: 1, y1: yearDomain[0], y2: yearDomain[1], width: 1, height: 280, fillOpacity: 0.8})];
} catch (e) { barMarks = []; }
const bar = Plot.plot({
  width: 118, height: 360, marginLeft: 42.3, marginRight: 62, marginTop: 27, marginBottom: 52,
  style: baseStyle,
  x: {domain: [0, 1], axis: null},
  y: {domain: yearDomain, label: null},
  color: {type: "linear", scheme: "viridis", domain: yearDomain},
  marks: [
    ...barMarks,
    Plot.frame({stroke: INK, strokeWidth: 1}),
    Plot.axisY({anchor: "right", ticks: ticksBar, tickSize: 5, tickPadding: 5, label: null, tickFormat: fmt})
  ]
});
place(bar, 1000, 0);

// z1 over time
place(Plot.plot({
  width: 670, height: 273, marginLeft: 64, marginRight: 5.7, marginTop: 32.3, marginBottom: 43.7,
  style: baseStyle,
  x: {domain: [1893.75, 2031.1], label: null},
  y: {domain: [-68.4, 47.7], label: null},
  marks: [
    ...gridMarks(ticksD_x, ticksD_y),
    Plot.line(z1All, {x: d => d[0], y: d => d[1], stroke: "#1f77b4", strokeWidth: 1.4}),
    ...axisMarks(ticksD_x, ticksD_y)
  ]
}), 0, 360);

// z2 over time
place(Plot.plot({
  width: 330, height: 273, marginLeft: 46.7, marginRight: 10, marginTop: 32.3, marginBottom: 43.7,
  style: baseStyle,
  x: {domain: [1893.8, 2030.9], label: null},
  y: {domain: [-12.5, 98.2], label: null},
  marks: [
    ...gridMarks(ticksE_x, ticksE_y),
    Plot.line(z2Quarterly, {x: (d, i) => z2Start + i * z2Step, y: d => d, stroke: "#1f77b4", strokeWidth: 1.1}),
    ...axisMarks(ticksE_x, ticksE_y)
  ]
}), 670, 360);

// ---------------- TEXT (titles, panel letters, axis labels) ----------------
const texts = [
  {t: "(a)", x: 16, y: 17, size: 14, weight: "bold", anchor: "start"},
  {t: "1900–1950", x: 200.2, y: 20, size: 13.5, anchor: "middle"},
  {t: "(b)", x: 341.7, y: 17, size: 14, weight: "bold", anchor: "start"},
  {t: "1951–2000", x: 527.5, y: 20, size: 13.5, anchor: "middle"},
  {t: "(c)", x: 667, y: 17, size: 14, weight: "bold", anchor: "start"},
  {t: "2001–2024", x: 853.3, y: 20, size: 13.5, anchor: "middle"},
  {t: "z1", x: 200.2, y: 346, size: 13.5, anchor: "middle"},
  {t: "z1", x: 527.5, y: 346, size: 13.5, anchor: "middle"},
  {t: "z1", x: 853.3, y: 346, size: 13.5, anchor: "middle"},
  {t: "z2", x: 19, y: 167.5, size: 13.5, anchor: "middle", rot: true},
  {t: "Year", x: 1116, y: 167.5, size: 13.5, anchor: "middle", rot: true},
  {t: "(d)", x: 16.7, y: 388, size: 14, weight: "bold", anchor: "start"},
  {t: "z1 over time", x: 364.2, y: 386.5, size: 16.5, anchor: "middle"},
  {t: "(e)", x: 668, y: 388, size: 14, weight: "bold", anchor: "start"},
  {t: "z2 over time", x: 853.3, y: 386.5, size: 16.5, anchor: "middle"},
  {t: "z1", x: 19, y: 490.8, size: 13.5, anchor: "middle", rot: true},
  {t: "z2", x: 685, y: 490.8, size: 13.5, anchor: "middle", rot: true},
  {t: "Year", x: 364.2, y: 628, size: 13.5, anchor: "middle"},
  {t: "Year", x: 853.3, y: 628, size: 13.5, anchor: "middle"}
];
const ns = "http://www.w3.org/2000/svg";
const ov = document.createElementNS(ns, "svg");
ov.setAttribute("id", "overlay");
ov.setAttribute("width", 1118);
ov.setAttribute("height", 633);
for (const d of texts) {
  const el = document.createElementNS(ns, "text");
  el.textContent = d.t;
  el.setAttribute("font-family", FONT);
  el.setAttribute("font-size", d.size);
  el.setAttribute("fill", "#111");
  el.setAttribute("text-anchor", d.anchor);
  if (d.weight) el.setAttribute("font-weight", d.weight);
  if (d.rot) el.setAttribute("transform", `translate(${d.x},${d.y}) rotate(-90)`);
  else { el.setAttribute("x", d.x); el.setAttribute("y", d.y); }
  ov.appendChild(el);
}
fig.appendChild(ov);
</script>
</body></html>
